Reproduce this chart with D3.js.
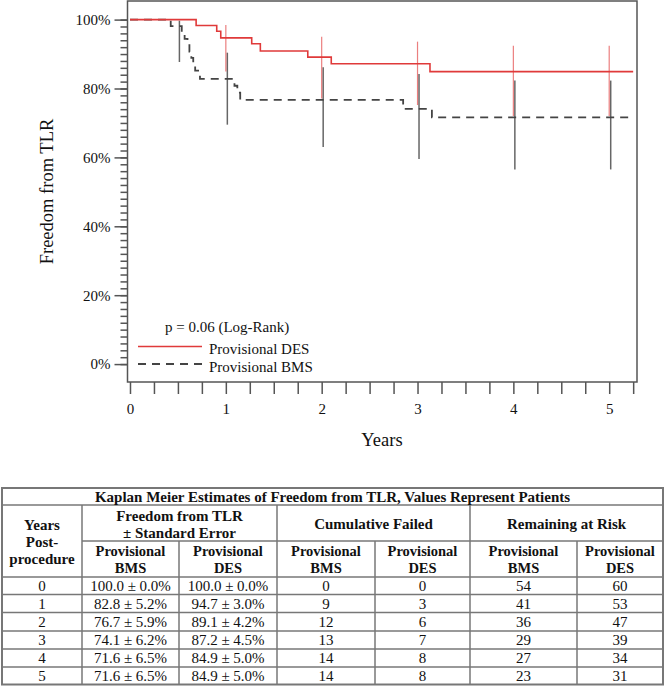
<!DOCTYPE html>
<html><head><meta charset="utf-8">
<script src="https://cdn.jsdelivr.net/npm/d3@7"></script>
<style>body{margin:0;background:#fff}</style>
</head><body>
<svg id="c" width="666" height="689"></svg>
<script>
// ---- Kaplan-Meier curves ----
const desTimes = [0, 0.69, 0.905, 0.947, 1.27, 1.36, 1.855, 2.10, 3.13, 5.25];
const desSurv  = [100, 98.3, 96.6, 94.7, 93.0, 90.9, 89.1, 87.2, 84.9, 84.9];
const bmsTimes = [0, 0.425, 0.54, 0.57, 0.60, 0.62, 0.64, 0.66, 0.68, 0.73, 1.09, 1.12, 1.15, 2.85, 3.15, 5.21];
const bmsSurv  = [100, 98.1, 96.3, 94.4, 92.6, 90.7, 88.9, 87.0, 85.2, 82.8, 80.8, 78.8, 76.7, 74.1, 71.6, 71.6];
// ---- confidence bars ----
const desCiYears = [1, 2, 3, 4, 5];
const desCiLo = [84.9, 77.1, 75.2, 72.0, 72.0];
const desCiHi = [98.4, 95.0, 93.6, 92.4, 92.4];
const bmsCiYears = [0.5, 1, 2, 3, 4, 5];
const bmsCiLo = [87.7, 69.5, 63.0, 59.5, 56.5, 56.5];
const bmsCiHi = [99.7, 90.4, 86.2, 84.2, 82.3, 82.3];
// ---- axes ----
const yTicks = [0, 20, 40, 60, 80, 100];
const xTicks = [0, 1, 2, 3, 4, 5];
const seriesNames = ["Provisional DES", "Provisional BMS"];
const pText = "p = 0.06 (Log-Rank)";
// ---- table ----
const tableTitle = "Kaplan Meier Estimates of Freedom from TLR, Values Represent Patients";
const tableYears = [0, 1, 2, 3, 4, 5];
const bmsEst = [100.0, 82.8, 76.7, 74.1, 71.6, 71.6];
const bmsSE  = [0.0, 5.2, 5.9, 6.2, 6.5, 6.5];
const desEst = [100.0, 94.7, 89.1, 87.2, 84.9, 84.9];
const desSE  = [0.0, 3.0, 4.2, 4.5, 5.0, 5.0];
const bmsFailed = [0, 9, 12, 13, 14, 14];
const desFailed = [0, 3, 6, 7, 8, 8];
const bmsRisk = [54, 41, 36, 29, 27, 23];
const desRisk = [60, 53, 47, 39, 34, 31];

const FONT = '"Liberation Serif","Times New Roman",serif';
const svg = d3.select('#c').style('font-family', FONT);
const x = d3.scaleLinear().domain([-0.026, 5.29]).range([127.5, 637]);
const y = d3.scaleLinear().domain([-5.2, 105.4]).range([382, 1]);
const AX = '#555';

// frame
svg.append('rect').attr('x', x.range()[0]).attr('y', y.range()[1])
  .attr('width', x.range()[1] - x.range()[0]).attr('height', y.range()[0] - y.range()[1])
  .attr('fill', 'none').attr('stroke', AX).attr('stroke-width', 1.5);

// y axis
const gy = svg.append('g').attr('transform', `translate(${x.range()[0]},0)`);
gy.call(d3.axisLeft(y).tickValues(d3.range(0, 101, 2)).tickSize(7).tickFormat(''));
gy.append('g').call(d3.axisLeft(y).tickValues(yTicks).tickSize(13).tickPadding(4).tickFormat(d => d + '%'));
gy.selectAll('.domain').remove();
gy.selectAll('line').attr('stroke', AX).attr('stroke-width', 1.5);
gy.selectAll('text').attr('font-family', FONT).attr('font-size', 15).attr('fill', '#111');

// x axis
const gx = svg.append('g').attr('transform', `translate(0,${y.range()[0]})`);
gx.call(d3.axisBottom(x).tickValues(d3.range(0, 5.26, 0.25)).tickSize(12).tickPadding(9)
  .tickFormat(d => xTicks.includes(d) ? d : ''));
gx.select('.domain').remove();
gx.selectAll('line').attr('stroke', AX).attr('stroke-width', 1.5);
gx.selectAll('text').attr('font-family', FONT).attr('font-size', 15).attr('fill', '#111');

// axis titles
svg.append('text').attr('transform', 'translate(53,191.5) rotate(-90)').attr('text-anchor', 'middle')
  .attr('font-size', 18.5).attr('fill', '#111').text('Freedom from TLR');
svg.append('text').attr('x', 382).attr('y', 445.5).attr('text-anchor', 'middle')
  .attr('font-size', 18.5).attr('fill', '#111').text('Years');

// CI bars
const RED = '#e03a3a';
svg.append('g').selectAll('line').data(bmsCiYears).join('line')
  .attr('x1', d => x(d) + 1.5).attr('x2', d => x(d) + 1.5)
  .attr('y1', (d, i) => y(bmsCiHi[i])).attr('y2', (d, i) => y(bmsCiLo[i]))
  .attr('stroke', '#666').attr('stroke-width', 1.5);
svg.append('g').selectAll('line').data(desCiYears).join('line')
  .attr('x1', d => x(d)).attr('x2', d => x(d))
  .attr('y1', (d, i) => y(desCiHi[i])).attr('y2', (d, i) => y(desCiLo[i]))
  .attr('stroke', RED).attr('stroke-opacity', 0.65).attr('stroke-width', 1.2);

// curves
const line = d3.line().x(d => x(d[0])).y(d => y(d[1])).curve(d3.curveStepAfter);
svg.append('path').datum(bmsTimes.map((t, i) => [t, bmsSurv[i]])).attr('d', line)
  .attr('fill', 'none').attr('stroke', '#444').attr('stroke-width', 1.8).attr('stroke-dasharray', '8,6');
svg.append('path').datum(desTimes.map((t, i) => [t, desSurv[i]])).attr('d', line)
  .attr('fill', 'none').attr('stroke', RED).attr('stroke-width', 1.6);

// legend
svg.append('text').attr('x', 165).attr('y', 331.5).attr('font-size', 15).attr('fill', '#111').text(pText);
const leg = [{y: 346.5, color: RED, dash: null, w: 1.6}, {y: 364, color: '#444', dash: '8,6', w: 1.8}];
leg.forEach((l, i) => {
  svg.append('line').attr('x1', 138).attr('x2', 202).attr('y1', l.y).attr('y2', l.y)
    .attr('stroke', l.color).attr('stroke-width', l.w).attr('stroke-dasharray', l.dash);
  svg.append('text').attr('x', 209).attr('y', l.y + 7.5).attr('font-size', 15).attr('fill', '#111').text(seriesNames[i]);
});

// ---- table ----
const cx = [2, 82, 179, 277, 375, 470, 577, 663];
const ry = [488, 505, 541, 577, 594.5, 612.5, 631, 649, 667, 684.5];
const tg = svg.append('g');
const TL = '#777';
function hl(x1, x2, yy, w) { tg.append('line').attr('x1', x1).attr('x2', x2).attr('y1', yy).attr('y2', yy).attr('stroke', TL).attr('stroke-width', w || 1.5); }
function vl(xx, y1, y2, w) { tg.append('line').attr('x1', xx).attr('x2', xx).attr('y1', y1).attr('y2', y2).attr('stroke', TL).attr('stroke-width', w || 1.5); }
function tx(xx, yy, s, bold, size) {
  tg.append('text').attr('x', xx).attr('y', yy).attr('text-anchor', 'middle')
    .attr('font-size', size || 15).attr('font-weight', bold ? 'bold' : 'normal').attr('fill', '#111').text(s);
}
tg.append('rect').attr('x', cx[0]).attr('y', ry[0]).attr('width', cx[7] - cx[0]).attr('height', ry[9] - ry[0])
  .attr('fill', 'none').attr('stroke', TL).attr('stroke-width', 2);
hl(cx[0], cx[7], ry[1]);
hl(cx[1], cx[7], ry[2]);
for (let k = 3; k < 9; k++) hl(cx[0], cx[7], ry[k]);
[1, 3, 5].forEach(k => vl(cx[k], ry[1], ry[9]));
[2, 4, 6].forEach(k => vl(cx[k], ry[2], ry[9]));

tx((cx[0] + cx[7]) / 2, 501.5, tableTitle, true, 15);
const mid = (a, b) => (cx[a] + cx[b]) / 2;
tx(mid(0, 1), 530, 'Years', true, 15);
tx(mid(0, 1), 547, 'Post-', true, 15);
tx(mid(0, 1), 563.5, 'procedure', true, 15);
tx(mid(1, 3), 521, 'Freedom from TLR', true, 15);
tx(mid(1, 3), 538, '\u00b1 Standard Error', true, 15);
tx(mid(3, 5), 529, 'Cumulative Failed', true, 15);
tx(mid(5, 7), 529, 'Remaining at Risk', true, 15);
const sub = ['BMS', 'DES', 'BMS', 'DES', 'BMS', 'DES'];
sub.forEach((s, k) => { tx(mid(k + 1, k + 2), 556, 'Provisional', true, 14.5); tx(mid(k + 1, k + 2), 572.5, s, true, 14.5); });

tableYears.forEach((yr, i) => {
  const by = (ry[i + 3] + ry[i + 4]) / 2 + 5;
  const cells = [yr, bmsEst[i].toFixed(1) + ' \u00b1 ' + bmsSE[i].toFixed(1) + '%',
    desEst[i].toFixed(1) + ' \u00b1 ' + desSE[i].toFixed(1) + '%',
    bmsFailed[i], desFailed[i], bmsRisk[i], desRisk[i]];
  cells.forEach((c, k) => tx(mid(k, k + 1), by, c, false, 15));
});
</script>
</body></html>
